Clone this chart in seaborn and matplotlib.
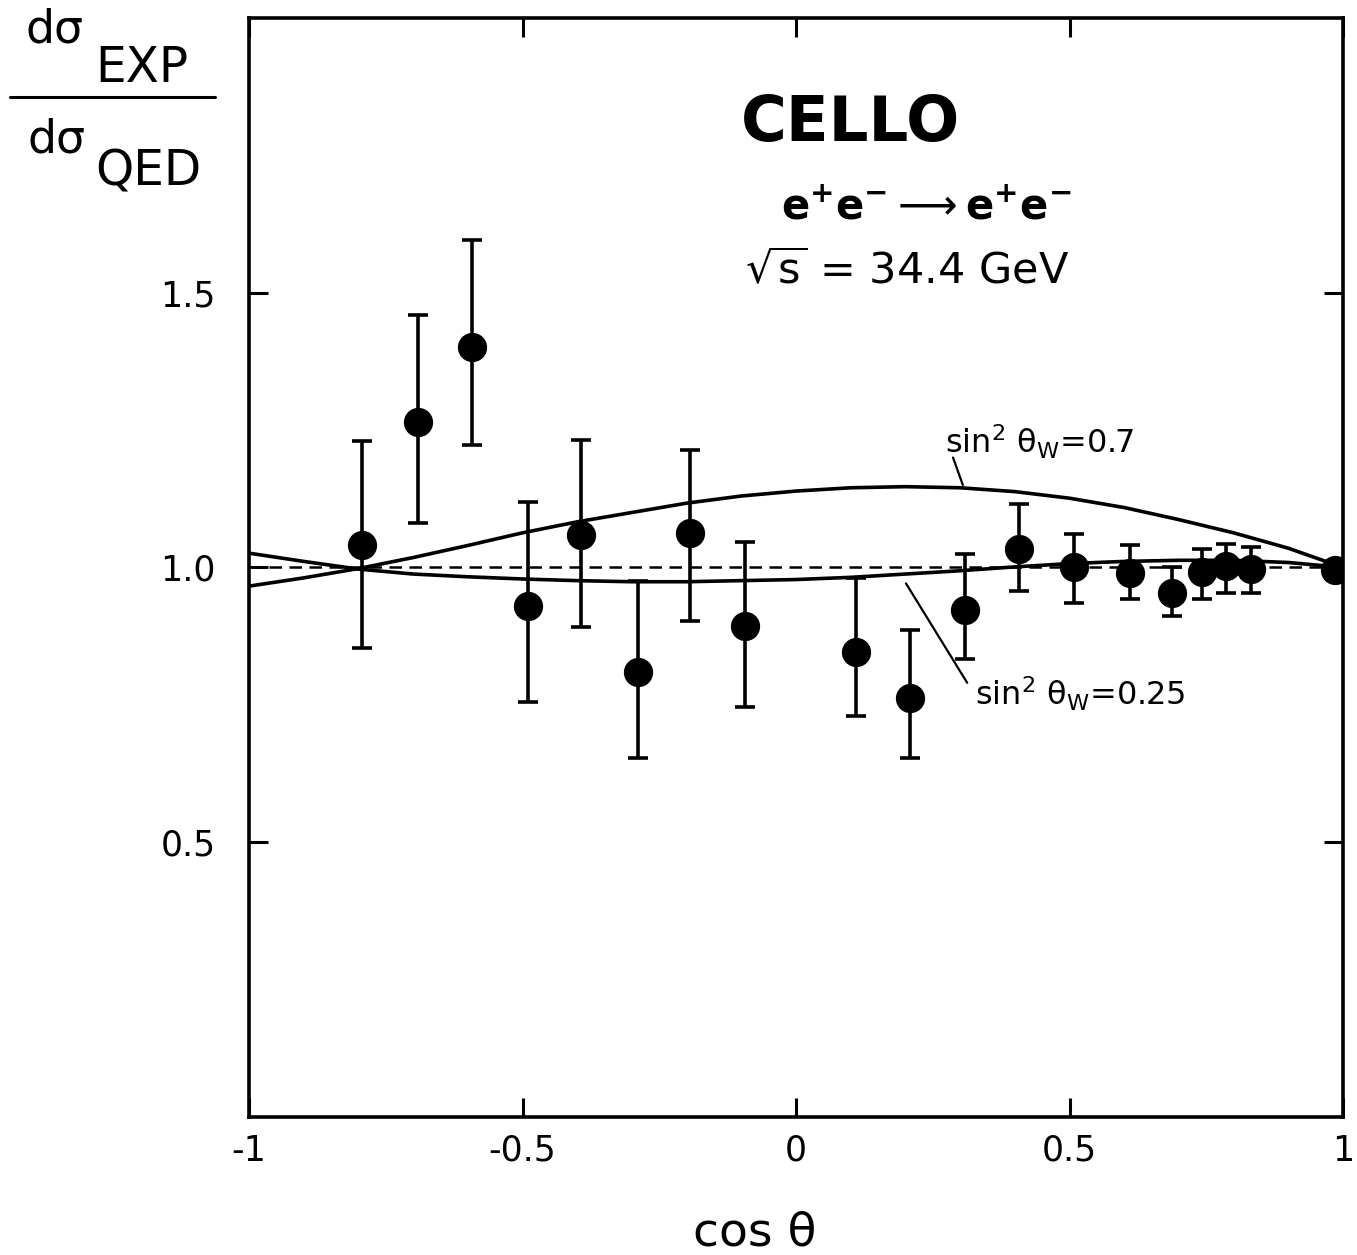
import numpy as np
import pandas as pd
import matplotlib
matplotlib.use("Agg")
import matplotlib.pyplot as plt
import seaborn as sns
from matplotlib.lines import Line2D

# measured points (CELLO, e+e- -> e+e-, sqrt(s) = 34.4 GeV)
cos_theta = [-0.793, -0.691, -0.592, -0.490, -0.393, -0.289, -0.194, -0.093, 0.110, 0.208,
             0.309, 0.408, 0.508, 0.611, 0.687, 0.742, 0.786, 0.832, 0.985]
ratio = [1.040, 1.264, 1.402, 0.930, 1.059, 0.810, 1.062, 0.894, 0.847, 0.763,
         0.923, 1.033, 1.000, 0.989, 0.954, 0.991, 1.002, 0.998, 0.996]
err_top = [1.230, 1.459, 1.596, 1.119, 1.232, 0.975, 1.213, 1.046, 0.980, 0.887,
           1.024, 1.115, 1.060, 1.040, 1.000, 1.033, 1.042, 1.038, 0.996]
err_bot = [0.853, 1.081, 1.222, 0.755, 0.891, 0.654, 0.903, 0.746, 0.730, 0.653,
           0.834, 0.958, 0.936, 0.943, 0.912, 0.943, 0.954, 0.954, 0.996]

# theory curves
curve_x = [-1.0, -0.9, -0.8, -0.7, -0.6, -0.5, -0.4, -0.3, -0.2, -0.1, 0.0,
           0.1, 0.2, 0.3, 0.4, 0.5, 0.6, 0.7, 0.8, 0.9, 1.0]
sw2_070 = [0.966, 0.981, 0.998, 1.018, 1.040, 1.063, 1.083, 1.100, 1.117, 1.130, 1.139,
           1.145, 1.147, 1.145, 1.138, 1.126, 1.109, 1.087, 1.063, 1.035, 1.000]
sw2_025 = [1.026, 1.011, 0.997, 0.988, 0.983, 0.979, 0.976, 0.974, 0.974, 0.976, 0.978,
           0.982, 0.988, 0.994, 1.001, 1.007, 1.011, 1.013, 1.013, 1.009, 1.000]

x_ticks = [-1, -0.5, 0, 0.5, 1]
x_labels = ["-1", "-0.5", "0", "0.5", "1"]
y_ticks = [0.5, 1.0, 1.5]
y_labels = ["0.5", "1.0", "1.5"]

pts = pd.DataFrame({"cos": cos_theta, "r": ratio, "top": err_top, "bot": err_bot})
curves = pd.DataFrame({"cos": curve_x * 2, "r": sw2_070 + sw2_025,
                       "model": ["0.7"] * len(curve_x) + ["0.25"] * len(curve_x)})

sns.set_style("ticks", {"axes.edgecolor": "black", "text.color": "black",
                        "xtick.color": "black", "ytick.color": "black",
                        "axes.labelcolor": "black"})
plt.rcParams["font.family"] = ["DejaVu Sans"]

fig = plt.figure(figsize=(13.57, 12.55), dpi=100)
ax = fig.add_axes([0.1835, 0.110, 0.8062, 0.8757])

ax.axhline(1.0, color="black", lw=1.8, dashes=(5, 3), zorder=1)
sns.lineplot(data=curves, x="cos", y="r", units="model", estimator=None,
             color="black", lw=2.6, ax=ax, zorder=2)

ax.errorbar(pts["cos"], pts["r"], yerr=[pts["r"] - pts["bot"], pts["top"] - pts["r"]],
            fmt="none", ecolor="black", elinewidth=2.6, capsize=7, capthick=2.6, zorder=3)
sns.scatterplot(data=pts, x="cos", y="r", s=380, color="black", edgecolor="black",
                ax=ax, zorder=4)

ax.set_xlim(-1, 1)
ax.set_ylim(0, 2)
ax.set_xticks(x_ticks)
ax.set_xticklabels(x_labels)
ax.set_yticks(y_ticks)
ax.set_yticklabels(y_labels)
ax.tick_params(direction="in", length=14, width=2.2, labelsize=25,
               top=True, right=True)
ax.tick_params(axis="x", pad=12)
ax.tick_params(axis="y", pad=24)
for s in ax.spines.values():
    s.set_linewidth(2.6)
    s.set_visible(True)
ax.set_xlabel("cos θ", fontsize=34)
ax.xaxis.set_label_coords(0.4625, -0.085)
ax.set_ylabel("")

# texts inside the frame
ax.text(0.099, 1.807, "CELLO", fontsize=45, fontweight="bold", ha="center", va="center")
ax.text(0.238, 1.657, r"e$^{\mathbf{+}}$e$^{\mathbf{-}}$$\longrightarrow$e$^{\mathbf{+}}$e$^{\mathbf{-}}$",
        fontsize=30, fontweight="bold", ha="center", va="center")
ax.text(0.203, 1.538, r"$\sqrt{\mathrm{s}}$ = 34.4 GeV", fontsize=31, ha="center", va="center")

ax.text(0.272, 1.208, r"sin$^{2}$ θ$_{\mathregular{W}}$=0.7", fontsize=23, ha="left", va="baseline")
ax.plot([0.287, 0.305], [1.200, 1.150], color="black", lw=1.6)
ax.text(0.327, 0.748, r"sin$^{2}$ θ$_{\mathregular{W}}$=0.25", fontsize=23, ha="left", va="baseline")
ax.plot([0.201, 0.313], [0.971, 0.790], color="black", lw=1.6)

# y label as a fraction in the upper left corner
W, H = 1357, 1255
fig.text(25 / W, 1 - 30 / H, "dσ", fontsize=33, ha="left", va="center")
fig.text(95 / W, 1 - 68 / H, "EXP", fontsize=35, ha="left", va="center")
fig.add_artist(Line2D([10 / W, 215 / W], [1 - 97 / H, 1 - 97 / H], color="black", lw=2.2))
fig.text(28 / W, 1 - 140 / H, "dσ", fontsize=33, ha="left", va="center")
fig.text(95 / W, 1 - 172 / H, "QED", fontsize=35, ha="left", va="center")

fig.savefig("out.png", dpi=100)
